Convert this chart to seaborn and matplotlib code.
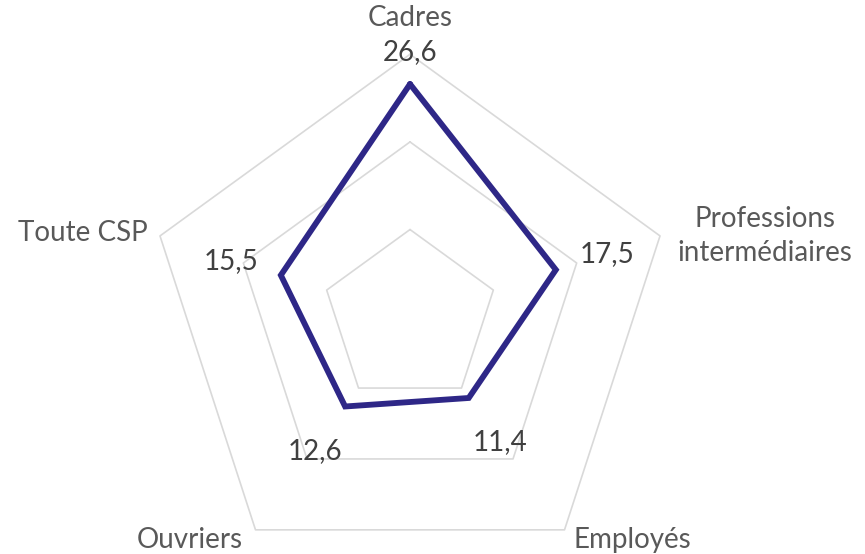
import numpy as np
import pandas as pd
import matplotlib
matplotlib.use("Agg")
import matplotlib.pyplot as plt
import seaborn as sns

# ---------------------- données ----------------------
categories = ["Cadres", "Professions\nintermédiaires", "Employés", "Ouvriers", "Toute CSP"]
valeurs = [26.6, 17.5, 11.4, 12.6, 15.5]
labels_valeurs = ["26,6", "17,5", "11,4", "12,6", "15,5"]
anneaux = [10, 20, 30]

# ---------------------- style ----------------------
sns.set_theme(style="white")
plt.rcParams['font.family'] = ['Lato', 'DejaVu Sans']

n = len(categories)
angles = np.arange(n) * 2 * np.pi / n
df = pd.DataFrame({
    "angle": np.append(angles, angles[0]),
    "valeur": valeurs + [valeurs[0]],
})

fig = plt.figure(figsize=(8.65, 5.54), dpi=100)
ax = fig.add_axes([0.170, -0.047, 0.608, 0.949], projection="polar")
ax.set_theta_zero_location("N")
ax.set_theta_direction(-1)
ax.set_ylim(0, 30)
ax.grid(False)
ax.spines["polar"].set_visible(False)
ax.set_xticks([])
ax.set_yticks([])
ax.patch.set_alpha(0)

# grille pentagonale
for r in anneaux:
    ax.plot(np.append(angles, angles[0]), [r] * (n + 1),
            color="#D9D9D9", linewidth=1.2, clip_on=False, zorder=1)

# série (polygone fermé)
sns.lineplot(data=df, x="angle", y="valeur", sort=False, estimator=None, ax=ax,
             color="#2E2787", linewidth=4.2, zorder=3)
ax.lines[-1].set_solid_joinstyle("miter")
ax.set_xlabel("")
ax.set_ylabel("")

# étiquettes des catégories
decal_cat = [(0, 36), (105, 0), (68, -10), (-66, -10), (-77, 3)]
for a, cat, (dx, dy) in zip(angles, categories, decal_cat):
    ax.annotate(cat, xy=(a, 30), xytext=(dx, dy), textcoords="offset pixels",
                ha="center", va="center", fontsize=20, color="#595959",
                linespacing=1.4, annotation_clip=False)

# étiquettes des valeurs
decal_val = [(0, 32), (51, 16), (31, -44), (-30, -45), (-50, 14)]
for a, v, txt, (dx, dy) in zip(angles, valeurs, labels_valeurs, decal_val):
    ax.annotate(txt, xy=(a, v), xytext=(dx, dy), textcoords="offset pixels",
                ha="center", va="center", fontsize=20, color="#404040",
                annotation_clip=False)

fig.savefig("out.png", dpi=100)
